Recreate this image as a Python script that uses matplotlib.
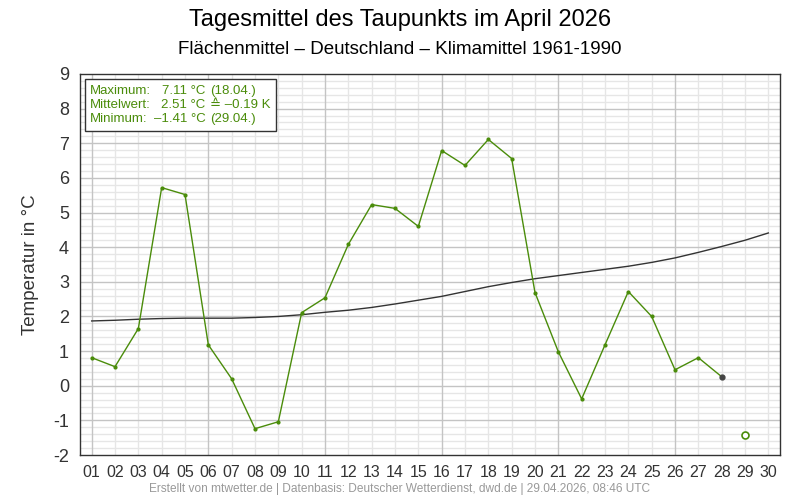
import numpy as np
import matplotlib
matplotlib.use('Agg')
import matplotlib.pyplot as plt
from matplotlib.ticker import MultipleLocator
from matplotlib.patches import Rectangle

plt.rcParams['font.family'] = ['Liberation Sans', 'DejaVu Sans']
plt.rcParams['axes.unicode_minus'] = False

# Tagesmittel Taupunkt, April 2026 (1. - 28.), 29. vorlaeufig
days = list(range(1, 29))
dewpoint = [0.81, 0.55, 1.65, 5.72, 5.52, 1.18, 0.20, -1.24, -1.04, 2.11,
            2.54, 4.08, 5.23, 5.12, 4.60, 6.79, 6.36, 7.11, 6.56, 2.69,
            0.98, -0.38, 1.18, 2.72, 2.00, 0.46, 0.81, 0.26]
current_day = 29
current_value = -1.41

# Klimamittel 1961-1990
clim_days = list(range(1, 31))
climate = [1.87, 1.89, 1.92, 1.94, 1.95, 1.95, 1.95, 1.97, 2.00, 2.05,
           2.12, 2.18, 2.26, 2.36, 2.47, 2.58, 2.72, 2.86, 2.98, 3.09,
           3.18, 3.27, 3.36, 3.45, 3.56, 3.69, 3.85, 4.02, 4.20, 4.41]

xlabels = ['%02d' % d for d in clim_days]

green = '#4a8c0a'

fig = plt.figure(figsize=(8, 5), dpi=100)
ax = fig.add_axes([0.1, 0.09, 0.875, 0.762])

ax.set_xlim(0.5, 30.5)
ax.set_ylim(-2, 9)
ax.set_xticks([])
ax.yaxis.set_major_locator(MultipleLocator(1))

# Gitter: erst die feinen Linien, dann die Hauptlinien darueber
major_days = [1, 6, 11, 16, 21, 26]
for d in clim_days:
    if d not in major_days:
        ax.axvline(d, color='#e6e6e6', linewidth=1, zorder=0.5)
for v in np.arange(-2, 9.01, 0.2):
    if abs(v - round(v)) > 1e-6:
        ax.axhline(v, color='#e6e6e6', linewidth=1, zorder=0.5)
for d in major_days:
    ax.axvline(d, color='#c4c4c4', linewidth=1, zorder=0.6)
for v in range(-1, 9):
    ax.axhline(v, color='#c4c4c4', linewidth=1, zorder=0.6)

# Beschriftung fuer jeden Tag
for d, lab in zip(clim_days, xlabels):
    ax.text(d, -0.025, lab, transform=ax.get_xaxis_transform(),
            ha='center', va='top', fontsize=11.5, color='#333333')
ax.tick_params(axis='both', which='both', length=0)
ax.tick_params(axis='y', labelsize=13, colors='#333333', pad=8)

ax.plot(clim_days, climate, color='#333333', linewidth=1)
ax.plot(days, dewpoint, color=green, linewidth=1, marker='o', markersize=2)
ax.plot(days[-1], dewpoint[-1], marker='o', markersize=3.5, color='#444444')
ax.plot(current_day, current_value, marker='o', markersize=5,
        markerfacecolor='white', markeredgecolor=green, markeredgewidth=1.2)

for s in ax.spines.values():
    s.set_color('#333333')
    s.set_linewidth(1)

ax.set_ylabel('Temperatur in °C', fontsize=13.5, color='#333333', labelpad=10)

fig.text(0.5, 0.96, 'Tagesmittel des Taupunkts im April 2026',
         ha='center', va='center', fontsize=17)
fig.text(0.5, 0.9, 'Flächenmittel – Deutschland – Klimamittel 1961-1990',
         ha='center', va='center', fontsize=13.5)
fig.text(0.5, 0.022, 'Erstellt von mtwetter.de | Datenbasis: Deutscher Wetterdienst, '
         'dwd.de | 29.04.2026, 08:46 UTC', ha='center', va='center',
         fontsize=8.6, color='#999999')

# Statistik-Box
ax.add_patch(Rectangle((0.007, 0.85), 0.273, 0.137, transform=ax.transAxes,
                       facecolor='white', edgecolor='#333333', linewidth=1,
                       zorder=5))
rows = [('Maximum:', '7.11 °C', '(18.04.)'),
        ('Mittelwert:', '2.51 °C', '≙ –0.19 K'),
        ('Minimum:', '–1.41 °C', '(29.04.)')]
for i, (a, b, c) in enumerate(rows):
    y = 0.955 - i * 0.037
    ax.text(0.0145, y, a, transform=ax.transAxes, ha='left', va='center',
            fontsize=9.5, color=green, zorder=6)
    ax.text(0.179, y, b, transform=ax.transAxes, ha='right', va='center',
            fontsize=9.5, color=green, zorder=6)
    ax.text(0.186, y, c, transform=ax.transAxes, ha='left', va='center',
            fontsize=9.5, color=green, zorder=6)

fig.savefig('out.png', dpi=100)
